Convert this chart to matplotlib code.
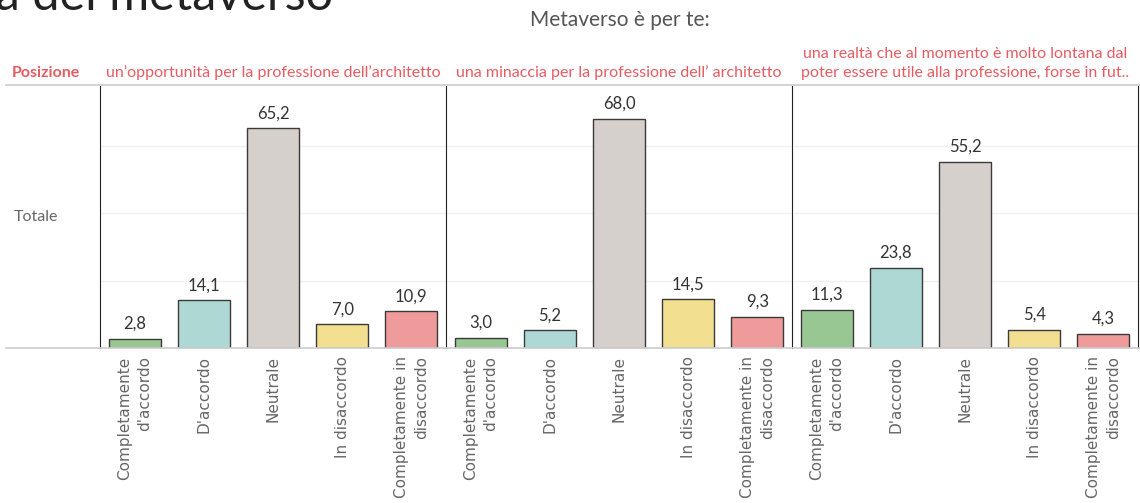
import matplotlib
matplotlib.use("Agg")
import matplotlib.pyplot as plt
from matplotlib.lines import Line2D

# dati
risposte = ["Completamente\nd'accordo", "D'accordo", "Neutrale", "In disaccordo",
            "Completamente in\ndisaccordo"]
titoli_pannelli = ["un\u2019opportunità per la professione dell\u2019architetto",
                   "una minaccia per la professione dell\u2019 architetto",
                   "una realtà che al momento è molto lontana dal\npoter essere utile alla professione, forse in fut.."]
opportunita = [2.8, 14.1, 65.2, 7.0, 10.9]
minaccia = [3.0, 5.2, 68.0, 14.5, 9.3]
lontana = [11.3, 23.8, 55.2, 5.4, 4.3]
colori = ["#98c793", "#aed8d3", "#d6d0cc", "#f2df8f", "#ef9b9c"]

ROSSO = "#e65c62"
GRIGIO = "#666666"
plt.rcParams['font.family'] = ['Lato', 'DejaVu Sans']

W, H = 1140, 503
fig = plt.figure(figsize=(W / 100, H / 100), dpi=100)

left, right, top, bottom = 100, 1138, 86, 348
pw = (right - left) / 3
serie = [opportunita, minaccia, lontana]

for i, valori in enumerate(serie):
    ax = fig.add_axes([(left + i * pw) / W, 1 - bottom / H, pw / W, (bottom - top) / H])
    x = range(len(risposte))
    ax.bar(x, valori, width=0.75, color=colori, edgecolor="#3a3a3a", linewidth=1, zorder=3)
    for xi, v in zip(x, valori):
        ax.annotate(f"{v:.1f}".replace(".", ","), (xi, v), xytext=(0, 5),
                    textcoords="offset points", ha="center", va="bottom",
                    fontsize=12, color="#333333")
    ax.set_xlim(-0.5, 4.5)
    ax.set_ylim(0, 77.7)
    ax.set_yticks([20, 40, 60])
    ax.yaxis.grid(True, color="#f0f0f0", linewidth=1, zorder=0)
    ax.tick_params(axis="y", left=False, labelleft=False)
    ax.tick_params(axis="x", length=0, pad=6)
    ax.set_xticks(list(x))
    ax.set_xticklabels(risposte, rotation=90, fontsize=11, color=GRIGIO,
                       family="DejaVu Sans", multialignment="right", va="top",
                       linespacing=1.4)
    for s in ["top", "bottom"]:
        ax.spines[s].set_visible(False)
    ax.spines["left"].set_color("#222222")
    ax.spines["right"].set_visible(i == 2)
    ax.spines["right"].set_color("#222222")
    ax.patch.set_alpha(0)
    fig.text((left + (i + 0.5) * pw) / W, 1 - 80 / H, titoli_pannelli[i],
             ha="center", va="bottom", fontsize=11.5, color=ROSSO, linespacing=1.45)

# linee orizzontali di intestazione e base
fig.add_artist(Line2D([6 / W, 1], [1 - 85 / H] * 2, color="#cccccc", linewidth=1.2))
fig.add_artist(Line2D([6 / W, 1], [1 - 348 / H] * 2, color="#cccccc", linewidth=1.2))

fig.text(12 / W, 1 - 80 / H, "Posizione", ha="left", va="bottom", fontsize=11.5,
         color=ROSSO, weight="bold")
fig.text(14 / W, 1 - 217 / H, "Totale", ha="left", va="center", fontsize=11.5, color=GRIGIO)
fig.text(620 / W, 1 - 20 / H, "Metaverso è per te:", ha="center", va="center",
         fontsize=15, color="#555555")
fig.text(-16 / W, 1 - 10 / H, "la del metaverso", ha="left", va="baseline",
         fontsize=35, color="#222222")

fig.savefig("out.png", dpi=100)
